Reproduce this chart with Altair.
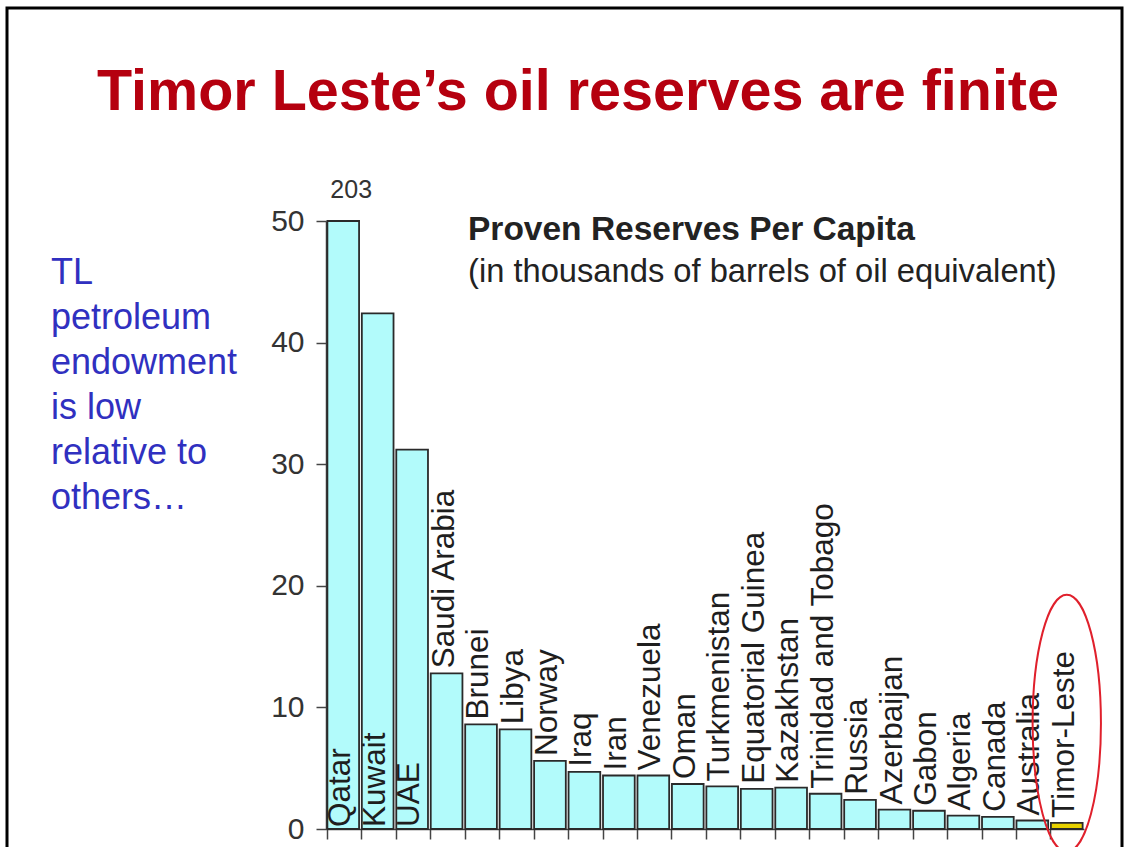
import altair as alt
import pandas as pd

countries = ["Qatar", "Kuwait", "UAE", "Saudi Arabia", "Brunei", "Libya", "Norway",
             "Iraq", "Iran", "Venezuela", "Oman", "Turkmenistan", "Equatorial Guinea",
             "Kazakhstan", "Trinidad and Tobago", "Russia", "Azerbaijan", "Gabon",
             "Algeria", "Canada", "Australia", "Timor-Leste"]
reserves = [203, 42.4, 31.2, 12.8, 8.6, 8.2, 5.6, 4.7, 4.4, 4.4, 3.7, 3.5, 3.3,
            3.4, 2.9, 2.4, 1.6, 1.5, 1.1, 1.0, 0.7, 0.5]
y_ticks = [0, 10, 20, 30, 40, 50]
y_max = 50

title_text = "Timor Leste\u2019s oil reserves are finite"
subtitle_bold = "Proven Reserves Per Capita"
subtitle_plain = "(in thousands of barrels of oil equivalent)"
side_note = ["TL", "petroleum", "endowment", "is low", "relative to", "others\u2026"]
highlight = "Timor-Leste"

df = pd.DataFrame({"country": countries, "reserves": reserves})

FONT = "Liberation Sans"
W, H = 758, 608

x_enc = alt.X("country:N", sort=countries,
              scale=alt.Scale(paddingInner=0.08, paddingOuter=0.04),
              axis=alt.Axis(labels=False, title=None, ticks=True, tickSize=10,
                            bandPosition=0, domainColor="#444", tickColor="#444",
                            domainWidth=1.5, tickWidth=1.5))
y_scale = alt.Scale(domain=[0, y_max], clamp=True, nice=False)
x_plain = alt.X("country:N", sort=countries)

base = alt.Chart(df)

bars = base.mark_bar(stroke="#2a2a2a", strokeWidth=1.8).encode(
    x=x_enc,
    y=alt.Y("reserves:Q", scale=y_scale,
            axis=alt.Axis(values=y_ticks, tickSize=10, labelFontSize=30,
                          labelFont=FONT, labelColor="#333333", labelPadding=12,
                          domainColor="#444", tickColor="#444", domainWidth=1.5,
                          tickWidth=1.5, grid=False, title=None)),
    color=alt.condition(alt.datum.country == highlight,
                        alt.value("#E8D200"), alt.value("#B2FBFB")),
)

labels_top = base.transform_filter("datum.reserves <= 20").mark_text(
    angle=270, align="left", baseline="alphabetic", dx=5, dy=7,
    fontSize=31.5, font=FONT, color="#1e1e1e"
).encode(x=x_plain, y=alt.Y("reserves:Q", scale=y_scale), text="country:N")

labels_in = base.transform_filter("datum.reserves > 20").mark_text(
    angle=270, align="left", baseline="alphabetic", dx=2, dy=7,
    fontSize=31.5, font=FONT, color="#1e1e1e"
).encode(x=x_plain, y=alt.value(H), text="country:N")

over_label = base.transform_filter("datum.reserves > %d" % y_max).mark_text(
    baseline="alphabetic", dy=-23, dx=8, fontSize=25, font=FONT, color="#333333"
).encode(x=x_plain, y=alt.value(0), text=alt.Text("reserves:Q", format="d"))

ellipse = base.transform_filter(alt.datum.country == highlight).mark_point(
    shape="M 0 -1 A 0.266 1 0 1 1 0 1 A 0.266 1 0 1 1 0 -1 Z",
    size=66000, filled=False, stroke="#E0202C", strokeWidth=2, opacity=1
).encode(x=x_plain, y=alt.datum(8.7))

one = alt.Data(values=[{"k": 1}])

border = alt.Chart(one).mark_rect(fill=None, stroke="#000000", strokeWidth=3).encode(
    x=alt.value(-319), x2=alt.value(796), y=alt.value(-213), y2=alt.value(640))

title = alt.Chart(one).mark_text(
    text=title_text, align="center", baseline="alphabetic", fontSize=57.5,
    fontWeight="bold", font=FONT, color="#B5000F"
).encode(x=alt.value(252), y=alt.value(-111))

sub1 = alt.Chart(one).mark_text(
    text=subtitle_bold, align="left", baseline="alphabetic", fontSize=33.5,
    fontWeight="bold", font=FONT, color="#222222"
).encode(x=alt.value(142), y=alt.value(19))

sub2 = alt.Chart(one).mark_text(
    text=subtitle_plain, align="left", baseline="alphabetic", fontSize=32.7,
    font=FONT, color="#222222"
).encode(x=alt.value(142), y=alt.value(61))

note = alt.Chart(one).mark_text(
    text=side_note, align="left", baseline="alphabetic", fontSize=36,
    lineHeight=45, font=FONT, color="#3030C0"
).encode(x=alt.value(-275), y=alt.value(63))

chart = alt.layer(border, bars, labels_top, labels_in, over_label, ellipse,
                  title, sub1, sub2, note).properties(
    width=W, height=H,
    autosize=alt.AutoSizeParams(type="none"),
    padding={"left": 326, "top": 221, "right": 41, "bottom": 18},
    background="white",
).configure_view(stroke=None)

chart.save("out.html", embed_options={"renderer": "svg", "actions": False})
